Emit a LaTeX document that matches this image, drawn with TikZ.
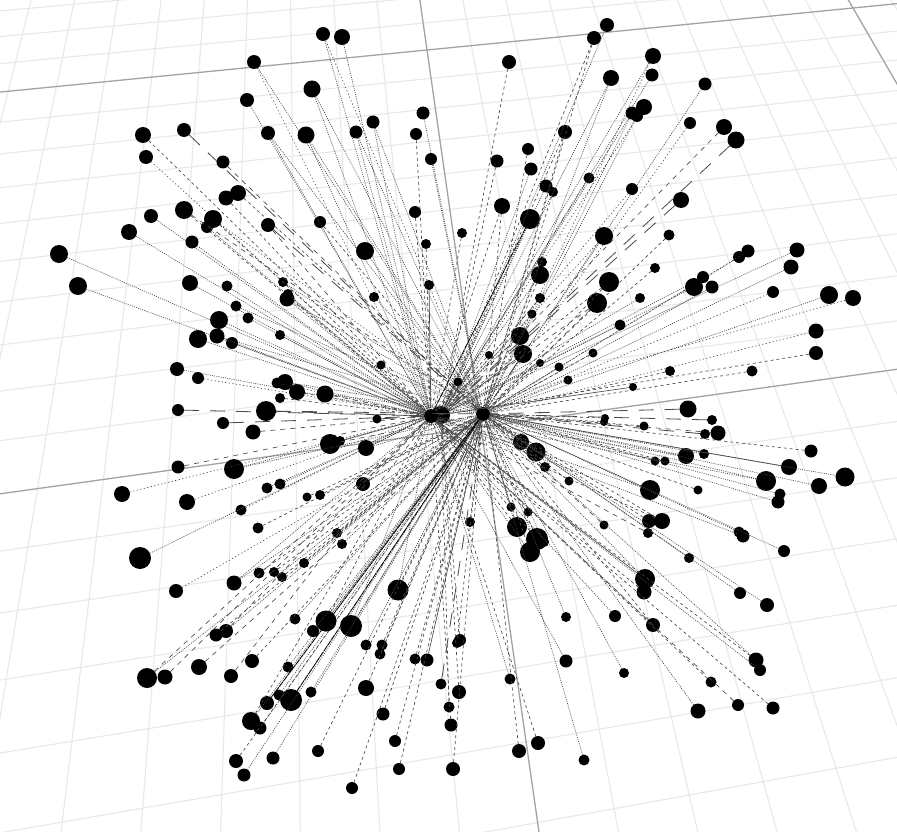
\documentclass[tikz,border=0pt]{standalone}
\begin{document}
\begin{tikzpicture}[x=1pt,y=-1pt,
  dot/.style={circle,fill=black,inner sep=0pt,outer sep=0pt},
  minorgrid/.style={draw=black!9,line width=1.1pt},
  majorgrid/.style={draw=black!36,line width=1.3pt},
  ed/.style={draw=black!72,line width=.65pt},
  ea/.style={ed,dash pattern=on 1pt off 1.2pt},
  eb/.style={ed,dash pattern=on 1.2pt off 2.4pt},
  ec/.style={ed,dash pattern=on 5pt off 5pt},
  ef/.style={ed,dash pattern=on 3pt off 3pt},
  eg/.style={ed,line width=.8pt,dash pattern=on 15pt off 11pt},
  eh/.style={draw=black,line width=.8pt,dash pattern=on 6pt off .8pt}]
\useasboundingbox (0,0) rectangle (897,832);
\fill[white] (0,0) rectangle (897,832);
\clip (0,0) rectangle (897,832);
% perspective floor grid
\def\hx#1#2{((465.81*(#1)-74.66*(#2)+427)/(1+0.04667*(#1)-0.26748*(#2)))}
\def\hy#1#2{((-41.63*(#1)+262.8*(#2)+50)/(1+0.04667*(#1)-0.26748*(#2)))}
\foreach \u in {-12,...,13}{
  \pgfmathsetmacro\ax{\hx{\u/10}{-0.5}}\pgfmathsetmacro\ay{\hy{\u/10}{-0.5}}
  \pgfmathsetmacro\bx{\hx{\u/10}{2}}\pgfmathsetmacro\by{\hy{\u/10}{2}}
  \pgfmathtruncatemacro\mj{(\u==0||\u==10||\u==-10)?1:0}
  \ifnum\mj=0 \draw[minorgrid] (\ax,\ay) -- (\bx,\by);\fi}
\foreach \v in {-4,...,17}{
  \pgfmathsetmacro\ax{\hx{-1.5}{\v/10}}\pgfmathsetmacro\ay{\hy{-1.5}{\v/10}}
  \pgfmathsetmacro\bx{\hx{1.5}{\v/10}}\pgfmathsetmacro\by{\hy{1.5}{\v/10}}
  \pgfmathtruncatemacro\mj{(\v==0||\v==10)?1:0}
  \ifnum\mj=0 \draw[minorgrid] (\ax,\ay) -- (\bx,\by);\fi}
\foreach \u in {-10,0,10}{
  \pgfmathsetmacro\ax{\hx{\u/10}{-0.5}}\pgfmathsetmacro\ay{\hy{\u/10}{-0.5}}
  \pgfmathsetmacro\bx{\hx{\u/10}{2}}\pgfmathsetmacro\by{\hy{\u/10}{2}}
  \draw[majorgrid] (\ax,\ay) -- (\bx,\by);}
\foreach \v in {0,10}{
  \pgfmathsetmacro\ax{\hx{-1.5}{\v/10}}\pgfmathsetmacro\ay{\hy{-1.5}{\v/10}}
  \pgfmathsetmacro\bx{\hx{1.5}{\v/10}}\pgfmathsetmacro\by{\hy{1.5}{\v/10}}
  \draw[majorgrid] (\ax,\ay) -- (\bx,\by);}
% hubs
\node[dot,minimum size=14pt] (L) at (431,416) {};
\node[dot,minimum size=18pt] (M) at (441,415) {};
\node[dot,minimum size=14pt] (R) at (483,414) {};
% leaves, each joined to a hub
\foreach \x/\y/\r/\h/\s [count=\i] in {
254/62/7/R/ea,247/100/7/L/ea,143/135/8/L/ef,184/130/7/R/eg,268/133/7/R/ea,146/157/7/L/eb,223/162/6.5/R/ec,
238/193/8/R/ef,226/198/7.5/L/ef,184/210/9/L/ef,213/219/9/R/eb,207/227/6/L/ea,151/216/7/L/ea,129/232/8/L/ea,
192/242/6.5/L/ea,268/225/7/R/eg,59/254/9/L/ea,78/286/9/L/ea,190/283/8/L/ea,283/282/5/R/ea,
323/34/7/L/ea,342/37/8/L/ea,312/89/8.5/L/ea,306/135/8.5/L/ea,356/132/6.5/L/ea,373/122/6.5/R/ea,423/113/6.5/R/ea,
416/134/6/L/ef,431/159/6/R/ea,509/62/7/M/ef,594/38/7/M/ef,497/161/6.5/M/ef,528/149/6/R/ef,531/169/6.5/M/ea,
565/132/7/M/ef,546/186/6.5/M/ea,553/192/5/R/ef,589/178/5.5/M/ea,415/212/6/L/ef,502/206/8/R/ef,530/219/10/M/ea,
320/222/6/R/ef,365/251/9/R/ea,462/233/5/L/ef,426/244/5/L/ef,542/262/5/R/ef,540/275/9/M/ea,
607/25/7/M/ea,653/56/8/M/ea,652/75/6.5/M/ea,611/78/8/M/ea,705/84/6.5/R/ea,644/107/8/M/eb,632/113/6.5/M/ea,637/116/6/R/ea,
690/123/6/R/eb,724/127/8/M/ec,736/140/8.5/M/eg,632/189/6/M/eb,681/200/8/M/eg,669/235/5.5/R/ef,604/236/9/M/eb,
655/268/5/R/ef,739/257/6/R/ea,748/251/6.5/R/eb,797/250/7.5/M/ea,791/267/7.5/R/ea,703/277/6/M/ea,
227/286/5.5/L/ea,236/306/5.5/R/ea,248/318/5.5/L/ea,287/299/7.5/R/ea,288/294/5/L/ea,219/320/9/L/ea,198/339/9/L/ea,
217/336/7.5/R/ea,232/343/6/L/ea,280/335/5/L/ea,177/369/7/L/ea,198/378/6/L/eb,285/382/8/L/ea,277/383/5.5/L/eb,
280/398/5/L/ef,297/392/8/L/ef,178/410/6/L/eg,266/411/10/L/eg,223/423/6/L/eg,253/432/7.5/L/ec,
178/467/6.5/L/ec,234/469/10/L/ea,122/494/8/L/eb,187/502/8/L/eb,267/488/5.5/L/ea,280/484/5.5/L/ea,241/510/5.5/L/eb,
258/528/5.5/R/ef,140/558/11/L/ea,374/297/5/R/ea,429/285/5/L/ed,381/365/4.5/R/ea,325/394/8.5/R/ea,458/382/4.5/L/ef,
377/419/4.5/L/eg,330/444/10/L/ea,340/441/5/L/ea,366/448/8/L/ea,363/484/7/L/ea,307/497/4.5/R/ef,320/495/5/R/ef,
337/533/5/R/ef,342/544/5/R/ea,470/522/5/R/ef,540/298/5/M/ef,532/314/4.5/M/ea,520/336/9/L/ea,523/354/9/M/ed,
489/355/4/L/ef,540/363/4/R/ef,559/367/4.5/R/ea,568/380/4.5/R/ea,593/353/4.5/R/ef,597/303/10/M/ec,
521/442/8/L/ef,536/452/9.5/L/ef,545/467/5/R/ef,569/481/4.5/R/ef,511/507/4.5/R/ef,528/512/4.5/L/ef,517/527/10/L/ef,
537/539/11/R/ef,530/552/10/R/ef,544/542/5/R/ea,694/287/9/M/ea,712/287/6.5/R/ea,773/292/6/R/eb,829/295/9/R/ea,
853/298/8/M/eb,816/331/7.5/R/eb,816/353/7/M/ef,752/371/5.5/R/ef,670/371/5/R/ef,633/387/4/L/ed,640/298/5/M/ea,620/325/5.5/M/ea,
609/282/10/M/ef,605/418/4/R/ef,604/422/4/R/ef,688/409/8.5/R/eg,712/420/5/R/eg,718/433/7.5/R/ec,705/434/5/R/eg,
644/426/4.5/R/ef,686/456/8/R/ea,704/454/5/R/ea,655/461/4.5/R/ef,665/461/4.5/R/ef,811/451/6.5/R/ef,789/467/8/R/ed,
845/477/9.5/R/ea,766/481/10/R/ea,819/486/8/R/ea,780/494/5.5/R/ea,778/502/6.5/R/ea,698/490/4.5/R/ef,650/490/10/L/ea,
649/521/7/R/ef,662/521/8/R/ef,604/525/4.5/R/ec,648/533/5/L/ec,689/558/5/R/ea,739/532/5.5/R/ea,743/536/6.5/L/ea,784/551/6/R/ea,
645/579/10/L/ed,644/592/7.5/L/ef,740/593/6/R/ea,767/605/7/R/ea,615/616/6/L/ea,653/625/7/L/ea,566/617/5/R/ea,
756/660/7.5/L/ef,760/670/6/L/ea,624/673/5/R/ea,711/682/5.5/L/ef,738/705/6/L/ec,773/708/6.5/L/ef,698/711/7.5/R/ea,
176/591/7/R/eb,234/583/7.5/R/ea,259/573/5.5/R/ef,274/572/5/R/ef,282/577/5/R/ef,295/619/5.5/R/ea,226/631/7/R/ea,216/635/6.5/R/ef,
252/661/7/R/ef,199/667/8/R/ec,231/676/7/L/ec,147/678/10/R/ea,165/677/7.5/L/ec,288/667/5.5/R/ea,279/695/5.5/R/ea,291/700/11/R/ea,
267/703/7/R/ea,251/721/9/R/ea,260/728/6.5/R/ea,236/761/7/R/ef,273/758/6.5/R/ea,244/775/6.5/R/ea,
304/563/5/R/ef,398/590/10.5/R/ef,326/621/10.5/R/ea,351/626/11/R/ea,313/631/6/R/ea,366/645/5.5/R/ea,382/645/5.5/R/ef,
380/654/5.5/R/ef,415/659/5.5/R/ef,427/660/6.5/R/ed,460/640/6/M/ef,457/643/5/R/ef,311/692/5.5/R/ea,366/688/8/R/ef,441/684/5.5/R/eg,
459/692/7/M/ef,510/679/5.5/L/ea,566/661/6.5/L/ea,449/707/5.5/M/ef,451/725/6.5/L/ef,383/714/6.5/R/ef,395/741/6/R/ef,
399/769/6/R/ef,453/769/7/R/ef,519/751/7/R/ef,538/743/7/L/ef,584/760/5.5/R/ea,318/751/6/R/ef,352/788/6/R/ef}{
  \node[dot,minimum size=2*\r pt] (n\i) at (\x,\y) {};
  \draw[\s] (n\i) -- (\h);
}
% leaves that have a second link
\foreach \i/\h/\s in {
1/L/eb,5/L/ea,10/R/ec,11/L/ef,16/L/ec,21/R/eb,23/R/ea,24/R/ea,25/R/ea,26/L/ea,31/R/ef,35/R/ef,
40/L/ef,41/L/eh,47/R/ef,49/R/eb,51/R/ea,54/R/ea,62/R/ea,122/R/ec,145/R/ef,116/R/eg,
72/L/ea,76/L/ea,81/R/ea,86/R/eg,90/R/ea,101/L/ec,104/R/ec,106/R/ea,107/R/ea,
124/R/ef,129/R/ef,130/L/ef,131/L/ea,153/L/ea,160/L/ea,165/R/ea,167/L/ef,174/R/ea,179/R/ef,
181/R/ea,189/L/ea,194/L/ec,199/L/ec,203/R/eh,204/R/eh,205/L/ef,211/L/ea,212/L/ef,213/L/ea}{
  \draw[\s] (n\i) -- (\h);
}
\end{tikzpicture}
\end{document}
